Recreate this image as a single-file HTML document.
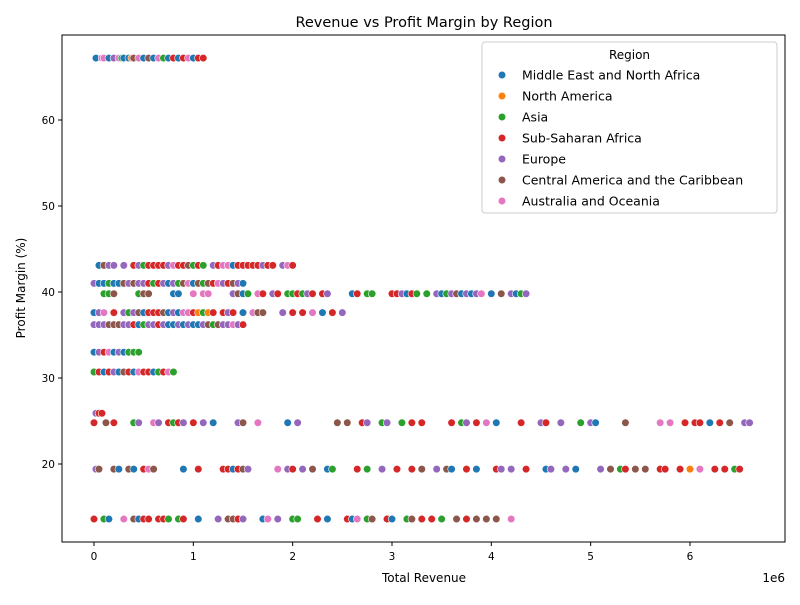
<!DOCTYPE html>
<html><head><meta charset="utf-8"><style>
body{margin:0;background:#fff;font-family:"Liberation Sans","DejaVu Sans",sans-serif}
svg text{font-family:"DejaVu Sans","Liberation Sans",sans-serif;fill:#000}
</style></head><body>
<svg id="chart" width="800" height="600" xmlns="http://www.w3.org/2000/svg">
<rect width="800" height="600" fill="#fff"/>
<text x="424" y="27" font-size="14.5" text-anchor="middle">Revenue vs Profit Margin by Region</text>
<g id="marks"></g>
<rect x="62" y="35" width="723" height="507" fill="none" stroke="#000" stroke-width="1"/>
<g id="axes"></g>
<text x="424" y="582" font-size="12" text-anchor="middle">Total Revenue</text>
<text x="785" y="582" font-size="12" text-anchor="end">1e6</text>
<text transform="translate(25,288) rotate(-90)" font-size="12" text-anchor="middle">Profit Margin (%)</text>
<g id="legend"></g>
</svg>
<script>
const regions=["Middle East and North Africa","North America","Asia","Sub-Saharan Africa","Europe","Central America and the Caribbean","Australia and Oceania"];
const colors=["#1f77b4","#ff7f0e","#2ca02c","#d62728","#9467bd","#8c564b","#e377c2"];
const xTicks=[0,1,2,3,4,5,6];
const yTicks=[20,30,40,50,60];
const margins=[67.2,43.1,41.0,39.8,37.6,36.2,33.0,30.7,25.9,24.8,19.4,13.6];
const rev672=[0.02,0.08,0.1,0.15,0.2,0.25,0.28,0.3,0.35,0.38,0.4,0.45,0.5,0.55,0.6,0.65,0.7,0.75,0.8,0.85,0.9,0.95,1.0,1.05,1.1];
const reg672="BPPBEPGBBNCPBCBPGBRBRPBRR";
const rev431=[0.05,0.1,0.15,0.2,0.3,0.4,0.45,0.5,0.55,0.6,0.65,0.7,0.75,0.8,0.85,0.9,0.95,1.0,1.05,1.1,1.2,1.25,1.3,1.35,1.4,1.45,1.5,1.55,1.6,1.65,1.7,1.75,1.8,1.9,1.95,2.0];
const reg431="BCEEEREGRRRREPRRCGRGERPPBRRRRRERREPR";
const rev410=[0.0,0.05,0.1,0.15,0.2,0.25,0.3,0.35,0.4,0.45,0.5,0.55,0.6,0.65,0.7,0.75,0.8,0.85,0.9,0.95,1.0,1.05,1.1,1.15,1.2,1.25,1.3,1.35,1.4,1.45,1.5];
const reg410="EBBGBBCECEERGREBEGCPBCGCRPERCEB";
const rev398=[0.1,0.15,0.2,0.45,0.5,0.55,0.8,0.85,1.0,1.1,1.15,1.4,1.45,1.5,1.55,1.65,1.7,1.8,1.85,1.95,2.0,2.05,2.1,2.15,2.2,2.3,2.35,2.6,2.65,2.75,2.8,3.0,3.05,3.1,3.15,3.2,3.25,3.35,3.45,3.5,3.55,3.6,3.65,3.7,3.75,3.8,3.85,3.9,4.0,4.1,4.2,4.25,4.3,4.35];
const reg398="GGCGCCBBPPPECBGPRERGGRGERREBRGGRREBRGGEBGECBEBEPBCEBGE";
const rev376=[0.0,0.05,0.1,0.2,0.3,0.35,0.4,0.45,0.5,0.55,0.6,0.65,0.7,0.75,0.8,0.85,0.9,0.95,1.0,1.05,1.1,1.15,1.2,1.3,1.35,1.4,1.5,1.6,1.65,1.7,1.9,2.0,2.1,2.2,2.3,2.4,2.5];
const reg376="BEPREGECBRRRCBEBPPRNGNRRERBPCCERRPBRE";
const rev362=[0.0,0.05,0.1,0.15,0.2,0.25,0.3,0.35,0.4,0.45,0.5,0.55,0.6,0.65,0.7,0.75,0.8,0.85,0.9,0.95,1.0,1.05,1.1,1.15,1.2,1.25,1.3,1.35,1.4,1.45,1.5];
const reg362="EEECCCEERBGEEREBBEBEBBECGCEEPER";
const rev330=[0.0,0.05,0.1,0.15,0.2,0.25,0.3,0.35,0.4,0.45];
const reg330="BERPBEBGGG";
const rev307=[0.0,0.05,0.1,0.15,0.2,0.25,0.3,0.35,0.4,0.45,0.5,0.55,0.6,0.65,0.7,0.75,0.8];
const reg307="GRBREBCRBPRRBGRPG";
const rev259=[0.02,0.05,0.08];
const reg259="ERR";
const rev248=[0.0,0.12,0.2,0.4,0.45,0.6,0.65,0.75,0.8,0.85,0.9,1.0,1.1,1.2,1.45,1.5,1.65,1.95,2.05,2.45,2.55,2.7,2.75,2.9,2.95,3.1,3.2,3.3,3.6,3.7,3.75,3.85,3.95,4.05,4.3,4.5,4.55,4.7,4.9,5.0,5.05,5.35,5.7,5.8,5.95,6.05,6.1,6.2,6.3,6.4,6.55,6.6];
const reg248="RCRGEPERGREREBECPBECCREGEGRRRGERPBREREGEBCPPRRRBRCEE";
const rev194=[0.02,0.05,0.2,0.25,0.35,0.4,0.5,0.55,0.6,0.9,1.05,1.3,1.35,1.4,1.45,1.5,1.55,1.85,1.95,2.0,2.1,2.2,2.35,2.4,2.65,2.75,2.9,3.05,3.2,3.3,3.45,3.55,3.6,3.75,3.85,4.05,4.1,4.2,4.35,4.55,4.6,4.75,4.85,5.1,5.2,5.3,5.35,5.45,5.55,5.7,5.75,5.9,6.0,6.1,6.25,6.35,6.45,6.5];
const reg194="ECCBCBRPCBRRRBRCEPERECBGRGERRCECBRBREERBEEBECGRCCRRRNPRRGR";
const rev136=[0.0,0.1,0.15,0.3,0.4,0.45,0.5,0.55,0.65,0.7,0.75,0.85,0.9,1.05,1.25,1.35,1.4,1.45,1.5,1.7,1.75,1.85,2.0,2.05,2.25,2.35,2.55,2.6,2.65,2.75,2.8,2.95,3.0,3.15,3.2,3.3,3.4,3.5,3.65,3.75,3.85,3.95,4.05,4.2];
const reg136="RGBPCBRRRRGGRBECCREBPEGGRBRBPGCRBGCRRGCRCCCP";
const revLevels=[rev672,rev431,rev410,rev398,rev376,rev362,rev330,rev307,rev259,rev248,rev194,rev136];
const regLevels=[reg672,reg431,reg410,reg398,reg376,reg362,reg330,reg307,reg259,reg248,reg194,reg136];
const code={B:0,N:1,G:2,R:3,E:4,C:5,P:6};
const NS="http://www.w3.org/2000/svg";
function sx(v){return 94+v*99.33;}
function sy(v){return 636-v*8.6;}
function mk(t,a){const e=document.createElementNS(NS,t);for(const k in a)e.setAttribute(k,a[k]);return e;}
const marks=document.getElementById('marks');
margins.forEach((m,i)=>{revLevels[i].forEach((r,j)=>{
  const ri=code[regLevels[i][j]]||0;
  const c=mk('circle',{cx:sx(r),cy:sy(m),r:3.8,fill:colors[ri],stroke:'#fff','stroke-width':0.6});
  
  
  marks.appendChild(c);
});});
const axes=document.getElementById('axes');
xTicks.forEach(t=>{
  const l=mk('line',{x1:sx(t),x2:sx(t),y1:542,y2:546,stroke:'#000'});
  
  
  axes.appendChild(l);
  const tx=mk('text',{x:sx(t),y:560,'font-size':10.5,'text-anchor':'middle'});tx.textContent=t;
  
  
  axes.appendChild(tx);
});
yTicks.forEach(t=>{
  const l=mk('line',{x1:58,x2:62,y1:sy(t),y2:sy(t),stroke:'#000'});
  
  
  axes.appendChild(l);
  const tx=mk('text',{x:55,y:sy(t)+4,'font-size':10.5,'text-anchor':'end'});tx.textContent=t;
  
  
  axes.appendChild(tx);
});
const lg=document.getElementById('legend');
lg.appendChild(mk('rect',{x:482,y:42,width:295,height:171,rx:3,fill:'#fff','fill-opacity':0.85,stroke:'#ccc'}));
const lt=mk('text',{x:629.5,y:59,'font-size':12,'text-anchor':'middle'});lt.textContent='Region';


lg.appendChild(lt);
regions.forEach((r,i)=>{
  const g=mk('g',{});
  
  
  const y=75+i*21;
  g.appendChild(mk('circle',{cx:502,cy:y,r:3.8,fill:colors[i],stroke:'#fff','stroke-width':0.6}));
  const t=mk('text',{x:522,y:y+4.5,'font-size':12.5});t.textContent=r;g.appendChild(t);
  lg.appendChild(g);
});
</script>
</body></html>
